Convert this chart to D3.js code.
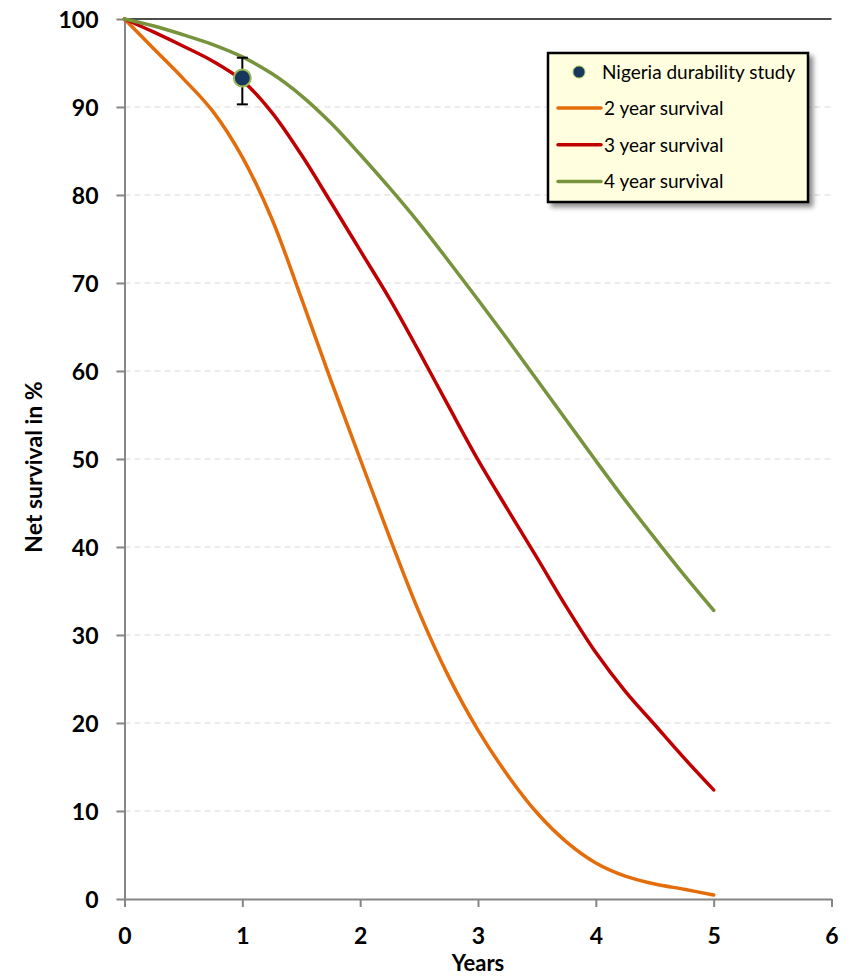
<!DOCTYPE html>
<html>
<head>
<meta charset="utf-8">
<script src="https://cdn.jsdelivr.net/npm/d3@7"></script>
<style>
  html, body { margin: 0; padding: 0; background: #ffffff; }
  svg { display: block; font-family: Lato, "Open Sans", sans-serif; }
</style>
</head>
<body>
<svg id="chart" width="852" height="977"></svg>
<script>
// Years since distribution (shared by all modelled curves)
const years = [0, 0.25, 0.5, 0.75, 1, 1.25, 1.5, 1.75, 2, 2.25, 2.5, 2.75, 3,
               3.25, 3.5, 3.75, 4, 4.25, 4.5, 4.75, 5];

// Net survival (%) for nets with a 2, 3 and 4 year median survival
const survival2 = [100, 96.6, 93.2, 89.5, 84.3, 77.3, 68.3, 59.0, 50.0, 41.1, 32.6,
                   25.3, 19.2, 14.1, 9.8, 6.5, 4.1, 2.6, 1.7, 1.1, 0.45];
const survival3 = [100, 98.5, 96.9, 95.2, 93.0, 89.4, 84.6, 79.2, 73.7, 68.2, 62.2,
                   56.0, 49.9, 44.3, 38.8, 33.2, 28.0, 23.6, 19.8, 16.0, 12.4];
const survival4 = [100, 99.2, 98.2, 97.1, 95.7, 93.8, 91.3, 88.2, 84.6, 80.8, 76.8,
                   72.5, 68.1, 63.6, 59.0, 54.4, 49.8, 45.3, 41.0, 36.8, 32.8];

const seriesNames = ["2 year survival", "3 year survival", "4 year survival"];
const seriesColors = ["#e46c0a", "#c00000", "#77933c"];

// Observed study result: time (years), survival (%), and 95% CI
const studyName = "Nigeria durability study";
const studyYear = [1];
const studyValue = [93.3];
const studyLow = [90.3];
const studyHigh = [95.6];

// Axis ticks
const xTicks = [0, 1, 2, 3, 4, 5, 6];
const yTicks = [0, 10, 20, 30, 40, 50, 60, 70, 80, 90, 100];

const svg = d3.select("#chart");
const plotLeft = 124.5, plotRight = 831.5, plotTop = 19, plotBottom = 899;

const x = d3.scaleLinear().domain([0, 6]).range([plotLeft, plotRight]);
const y = d3.scaleLinear().domain([0, 100]).range([plotBottom, plotTop]);

const defs = svg.append("defs");
const shadow = defs.append("filter").attr("id", "legendShadow")
  .attr("x", "-10%").attr("y", "-10%").attr("width", "130%").attr("height", "140%");
shadow.append("feDropShadow").attr("dx", 4).attr("dy", 4).attr("stdDeviation", 2.5)
  .attr("flood-color", "#000").attr("flood-opacity", 0.45);

// Horizontal gridlines
svg.append("g").selectAll("line")
  .data(yTicks.filter(d => d > 0 && d < 100))
  .join("line")
  .attr("x1", x(0)).attr("x2", x(6))
  .attr("y1", d => y(d)).attr("y2", d => y(d))
  .attr("stroke", "#d9d9d9").attr("stroke-width", 1)
  .attr("stroke-dasharray", "6,4");

// Top frame line at 100 %
svg.append("line")
  .attr("x1", x(0)).attr("x2", x(6))
  .attr("y1", y(100)).attr("y2", y(100))
  .attr("stroke", "#111").attr("stroke-width", 1.5);

// Axes
const axisColor = "#868686";
const yAxis = svg.append("g")
  .attr("transform", `translate(${plotLeft},0)`)
  .call(d3.axisLeft(y).tickValues(yTicks).tickSize(8).tickSizeOuter(0).tickPadding(18));
const xAxis = svg.append("g")
  .attr("transform", `translate(0,${plotBottom})`)
  .call(d3.axisBottom(x).tickValues(xTicks).tickFormat(d3.format("d"))
    .tickSize(8).tickSizeOuter(0));

[yAxis, xAxis].forEach(g => {
  g.select(".domain").attr("stroke", axisColor).attr("stroke-width", 2);
  g.selectAll(".tick line").attr("stroke", axisColor).attr("stroke-width", 2);
  g.selectAll(".tick text")
    .attr("fill", "#000").attr("font-family", "Lato, sans-serif")
    .attr("font-weight", "bold").attr("font-size", 23);
});
yAxis.selectAll(".tick text").attr("dy", "0.35em");
xAxis.selectAll(".tick text").attr("y", 45).attr("dy", 0);

// Axis titles
svg.append("text")
  .attr("transform", `translate(42,467) rotate(-90)`)
  .attr("text-anchor", "middle")
  .attr("font-weight", "bold").attr("font-size", 23)
  .text("Net survival in %");
svg.append("text")
  .attr("x", (plotLeft + plotRight) / 2).attr("y", 971)
  .attr("text-anchor", "middle")
  .attr("font-weight", "bold").attr("font-size", 22)
  .text("Years");

// Survival curves
const seriesData = [survival2, survival3, survival4];
const line = d3.line()
  .x((d, i) => x(years[i]))
  .y(d => y(d))
  .curve(d3.curveCatmullRom.alpha(0.5));

svg.append("g").selectAll("path")
  .data(seriesData)
  .join("path")
  .attr("d", d => line(d))
  .attr("fill", "none")
  .attr("stroke", (d, i) => seriesColors[i])
  .attr("stroke-width", 3.5)
  .attr("stroke-linejoin", "round")
  .attr("stroke-linecap", "round");

// Study point with confidence interval
const study = studyYear.map((t, i) => ({ t, v: studyValue[i], lo: studyLow[i], hi: studyHigh[i] }));
const sg = svg.append("g");
sg.selectAll("line.ci").data(study).join("line").attr("class", "ci")
  .attr("x1", d => x(d.t)).attr("x2", d => x(d.t))
  .attr("y1", d => y(d.lo)).attr("y2", d => y(d.hi))
  .attr("stroke", "#000").attr("stroke-width", 2);
["lo", "hi"].forEach(k => {
  sg.selectAll("line.cap-" + k).data(study).join("line").attr("class", "cap-" + k)
    .attr("x1", d => x(d.t) - 5.5).attr("x2", d => x(d.t) + 5.5)
    .attr("y1", d => y(d[k])).attr("y2", d => y(d[k]))
    .attr("stroke", "#000").attr("stroke-width", 2);
});
sg.selectAll("circle").data(study).join("circle")
  .attr("cx", d => x(d.t)).attr("cy", d => y(d.v)).attr("r", 8.5)
  .attr("fill", "#17375e").attr("stroke", "#9bbb59").attr("stroke-width", 2);

// Legend
const lg = svg.append("g").attr("transform", "translate(548,53)");
lg.append("rect")
  .attr("width", 260).attr("height", 149)
  .attr("fill", "#ffffe0").attr("stroke", "#000").attr("stroke-width", 2.5)
  .attr("filter", "url(#legendShadow)");
lg.append("circle").attr("cx", 31).attr("cy", 19).attr("r", 6)
  .attr("fill", "#17375e").attr("stroke", "#9bbb59").attr("stroke-width", 1);
lg.append("text").attr("x", 54).attr("y", 26)
  .attr("font-size", 19).attr("fill", "#000").text(studyName);
seriesNames.forEach((name, i) => {
  const cy = 55 + i * 36.7;
  lg.append("line").attr("x1", 10).attr("x2", 53).attr("y1", cy).attr("y2", cy)
    .attr("stroke", seriesColors[i]).attr("stroke-width", 3.5).attr("stroke-linecap", "round");
  lg.append("text").attr("x", 56).attr("y", cy + 7)
    .attr("font-size", 19).attr("fill", "#000").text(name);
});
</script>
</body>
</html>
